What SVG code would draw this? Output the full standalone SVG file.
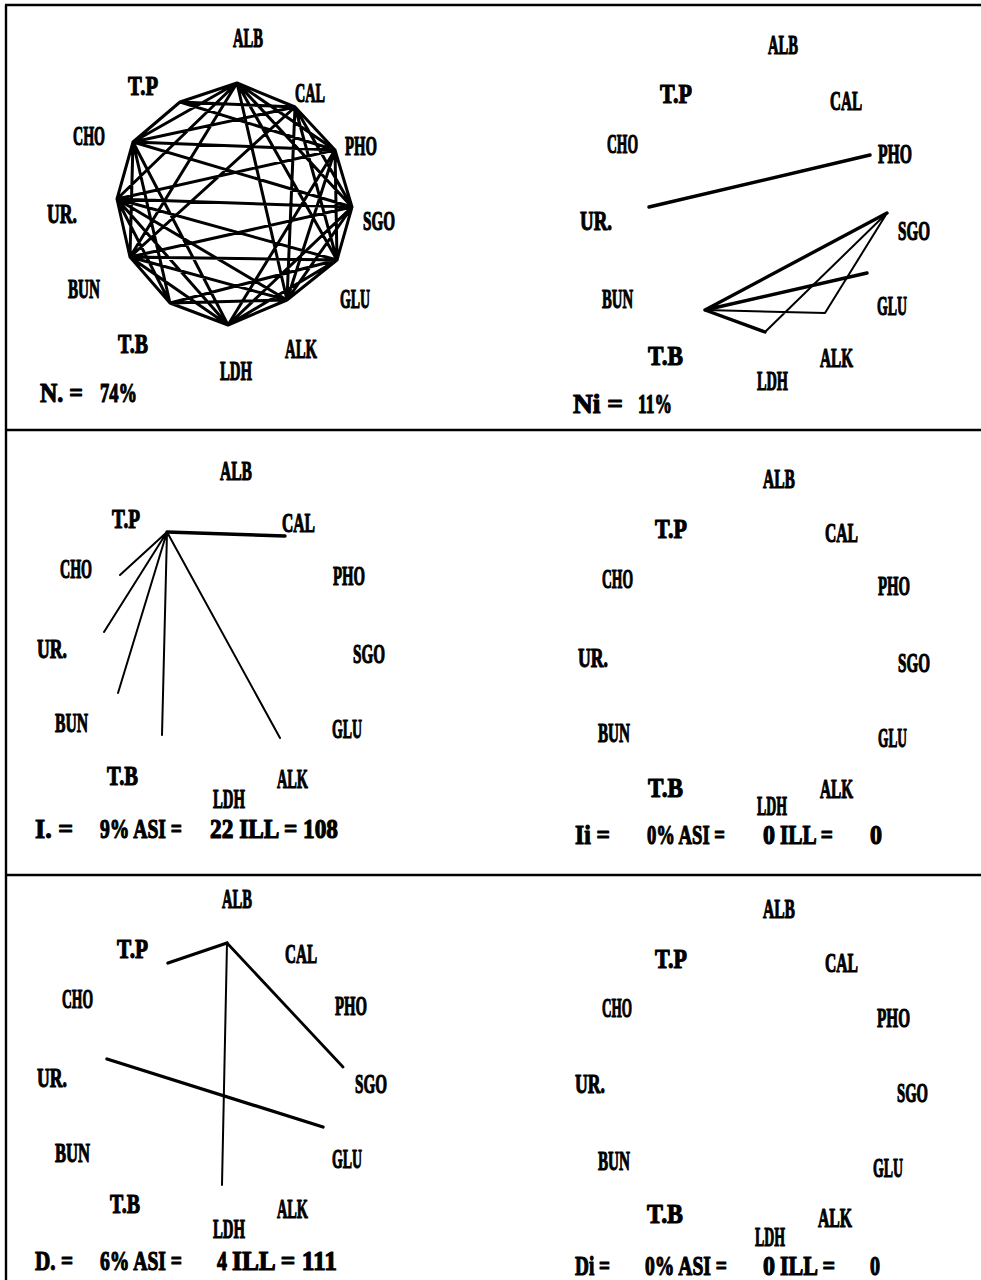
<svg xmlns="http://www.w3.org/2000/svg" width="981" height="1280" viewBox="0 0 981 1280">
<style>
.l{font-family:"Liberation Serif",serif;font-weight:bold;font-size:28px;fill:#000;stroke:#000;stroke-width:1.2;stroke-linejoin:round}
.e{stroke:#000;stroke-width:2;fill:none;stroke-linecap:round}
.k{stroke-width:3}
.j{stroke-width:3.4}
.b{stroke:#000;stroke-width:2.4;fill:none}
</style>
<rect width="981" height="1280" fill="#fff"/>
<g id="frame">
<path class="b" d="M5 5H981M6 5V1280M6 430H981M6 875H981"/>
</g>
<g id="connectors">
<path class="e k" d="M237 83L295 107M237 83L335 150M237 83L352 207M237 83L337 260M237 83L287 300M237 83L130 257M237 83L117 199M237 83L133 142M237 83L180 102M295 107L335 150M295 107L352 207M295 107L337 260M295 107L287 300M295 107L130 257M295 107L133 142M295 107L180 102M335 150L352 207M335 150L337 260M335 150L287 300M335 150L228 325M335 150L117 199M335 150L133 142M335 150L180 102M352 207L337 260M352 207L287 300M352 207L228 325M352 207L130 257M352 207L117 199M352 207L133 142M337 260L287 300M337 260L228 325M337 260L170 303M337 260L130 257M337 260L117 199M287 300L228 325M287 300L170 303M287 300L130 257M287 300L117 199M228 325L170 303M228 325L130 257M228 325L117 199M228 325L133 142M170 303L130 257M170 303L117 199M170 303L133 142M130 257L117 199M130 257L133 142M117 199L133 142M133 142L180 102"/>
<path class="e j" d="M649 207L870 155M705 310L887 213M705 310L867 273M705 310L765 332"/>
<path class="e" d="M705 310L825 313M765 332L887 213M825 313L887 213"/>
<path class="e j" d="M167 532L285 536"/>
<path class="e" d="M167 532L120 575M167 532L104 632M167 532L118 693M167 532L162 735M167 532L280 738"/>
<path class="e j" d="M168 963L227 943M107 1059L323 1127"/>
<path class="e" style="stroke-width:2.8" d="M227 943L343 1067"/>
<path class="e" d="M227 943L222 1185"/>
</g>
<g id="tl-ALB"><text class="l" x="233" y="47" textLength="30" lengthAdjust="spacingAndGlyphs">ALB</text></g>
<g id="tl-TP"><text class="l" x="128" y="95" textLength="30" lengthAdjust="spacingAndGlyphs">T.P</text></g>
<g id="tl-CAL"><text class="l" x="295" y="102" textLength="30" lengthAdjust="spacingAndGlyphs">CAL</text></g>
<g id="tl-CHO"><text class="l" x="73" y="145" textLength="32" lengthAdjust="spacingAndGlyphs">CHO</text></g>
<g id="tl-PHO"><text class="l" x="345" y="155" textLength="32" lengthAdjust="spacingAndGlyphs">PHO</text></g>
<g id="tl-UR"><text class="l" x="47" y="223" textLength="30" lengthAdjust="spacingAndGlyphs">UR.</text></g>
<g id="tl-SGO"><text class="l" x="363" y="230" textLength="32" lengthAdjust="spacingAndGlyphs">SGO</text></g>
<g id="tl-BUN"><text class="l" x="68" y="298" textLength="32" lengthAdjust="spacingAndGlyphs">BUN</text></g>
<g id="tl-GLU"><text class="l" x="340" y="308" textLength="30" lengthAdjust="spacingAndGlyphs">GLU</text></g>
<g id="tl-TB"><text class="l" x="118" y="353" textLength="30" lengthAdjust="spacingAndGlyphs">T.B</text></g>
<g id="tl-ALK"><text class="l" x="285" y="358" textLength="32" lengthAdjust="spacingAndGlyphs">ALK</text></g>
<g id="tl-LDH"><text class="l" x="220" y="380" textLength="32" lengthAdjust="spacingAndGlyphs">LDH</text></g>
<g id="tl-stat"><text class="l" x="40" y="402" textLength="43" lengthAdjust="spacingAndGlyphs">N. =</text><text class="l" x="100" y="402" textLength="37" lengthAdjust="spacingAndGlyphs">74%</text></g>
<g id="tr-ALB"><text class="l" x="768" y="54" textLength="30" lengthAdjust="spacingAndGlyphs">ALB</text></g>
<g id="tr-TP"><text class="l" x="660" y="103" textLength="32" lengthAdjust="spacingAndGlyphs">T.P</text></g>
<g id="tr-CAL"><text class="l" x="830" y="110" textLength="32" lengthAdjust="spacingAndGlyphs">CAL</text></g>
<g id="tr-CHO"><text class="l" x="607" y="153" textLength="31" lengthAdjust="spacingAndGlyphs">CHO</text></g>
<g id="tr-PHO"><text class="l" x="878" y="163" textLength="34" lengthAdjust="spacingAndGlyphs">PHO</text></g>
<g id="tr-UR"><text class="l" x="580" y="230" textLength="32" lengthAdjust="spacingAndGlyphs">UR.</text></g>
<g id="tr-SGO"><text class="l" x="898" y="240" textLength="32" lengthAdjust="spacingAndGlyphs">SGO</text></g>
<g id="tr-BUN"><text class="l" x="602" y="308" textLength="31" lengthAdjust="spacingAndGlyphs">BUN</text></g>
<g id="tr-GLU"><text class="l" x="877" y="315" textLength="30" lengthAdjust="spacingAndGlyphs">GLU</text></g>
<g id="tr-TB"><text class="l" x="648" y="365" textLength="35" lengthAdjust="spacingAndGlyphs">T.B</text></g>
<g id="tr-ALK"><text class="l" x="820" y="367" textLength="33" lengthAdjust="spacingAndGlyphs">ALK</text></g>
<g id="tr-LDH"><text class="l" x="757" y="390" textLength="31" lengthAdjust="spacingAndGlyphs">LDH</text></g>
<g id="tr-stat"><text class="l" x="573" y="413" textLength="50" lengthAdjust="spacingAndGlyphs">Ni =</text><text class="l" x="638" y="413" textLength="34" lengthAdjust="spacingAndGlyphs">11%</text></g>
<g id="ml-ALB"><text class="l" x="220" y="480" textLength="32" lengthAdjust="spacingAndGlyphs">ALB</text></g>
<g id="ml-TP"><text class="l" x="112" y="528" textLength="28" lengthAdjust="spacingAndGlyphs">T.P</text></g>
<g id="ml-CAL"><text class="l" x="282" y="532" textLength="33" lengthAdjust="spacingAndGlyphs">CAL</text></g>
<g id="ml-CHO"><text class="l" x="60" y="578" textLength="32" lengthAdjust="spacingAndGlyphs">CHO</text></g>
<g id="ml-PHO"><text class="l" x="333" y="585" textLength="32" lengthAdjust="spacingAndGlyphs">PHO</text></g>
<g id="ml-UR"><text class="l" x="37" y="658" textLength="30" lengthAdjust="spacingAndGlyphs">UR.</text></g>
<g id="ml-SGO"><text class="l" x="353" y="663" textLength="32" lengthAdjust="spacingAndGlyphs">SGO</text></g>
<g id="ml-BUN"><text class="l" x="55" y="732" textLength="33" lengthAdjust="spacingAndGlyphs">BUN</text></g>
<g id="ml-GLU"><text class="l" x="332" y="738" textLength="30" lengthAdjust="spacingAndGlyphs">GLU</text></g>
<g id="ml-TB"><text class="l" x="107" y="785" textLength="31" lengthAdjust="spacingAndGlyphs">T.B</text></g>
<g id="ml-ALK"><text class="l" x="277" y="788" textLength="31" lengthAdjust="spacingAndGlyphs">ALK</text></g>
<g id="ml-LDH"><text class="l" x="213" y="808" textLength="32" lengthAdjust="spacingAndGlyphs">LDH</text></g>
<g id="ml-stat"><text class="l" x="35" y="838" textLength="38" lengthAdjust="spacingAndGlyphs">I. =</text><text class="l" x="100" y="838" textLength="82" lengthAdjust="spacingAndGlyphs">9% ASI =</text><text class="l" x="210" y="838" textLength="128" lengthAdjust="spacingAndGlyphs">22 ILL = 108</text></g>
<g id="mr-ALB"><text class="l" x="763" y="488" textLength="32" lengthAdjust="spacingAndGlyphs">ALB</text></g>
<g id="mr-TP"><text class="l" x="655" y="538" textLength="32" lengthAdjust="spacingAndGlyphs">T.P</text></g>
<g id="mr-CAL"><text class="l" x="825" y="542" textLength="33" lengthAdjust="spacingAndGlyphs">CAL</text></g>
<g id="mr-CHO"><text class="l" x="602" y="588" textLength="31" lengthAdjust="spacingAndGlyphs">CHO</text></g>
<g id="mr-PHO"><text class="l" x="878" y="595" textLength="32" lengthAdjust="spacingAndGlyphs">PHO</text></g>
<g id="mr-UR"><text class="l" x="578" y="667" textLength="30" lengthAdjust="spacingAndGlyphs">UR.</text></g>
<g id="mr-SGO"><text class="l" x="898" y="672" textLength="32" lengthAdjust="spacingAndGlyphs">SGO</text></g>
<g id="mr-BUN"><text class="l" x="598" y="742" textLength="32" lengthAdjust="spacingAndGlyphs">BUN</text></g>
<g id="mr-GLU"><text class="l" x="878" y="747" textLength="29" lengthAdjust="spacingAndGlyphs">GLU</text></g>
<g id="mr-TB"><text class="l" x="648" y="797" textLength="35" lengthAdjust="spacingAndGlyphs">T.B</text></g>
<g id="mr-ALK"><text class="l" x="820" y="798" textLength="33" lengthAdjust="spacingAndGlyphs">ALK</text></g>
<g id="mr-LDH"><text class="l" x="757" y="815" textLength="30" lengthAdjust="spacingAndGlyphs">LDH</text></g>
<g id="mr-stat"><text class="l" x="575" y="844" textLength="35" lengthAdjust="spacingAndGlyphs">Ii =</text><text class="l" x="647" y="844" textLength="78" lengthAdjust="spacingAndGlyphs">0% ASI =</text><text class="l" x="763" y="844" textLength="12" lengthAdjust="spacingAndGlyphs">0</text><text class="l" x="780" y="844" textLength="53" lengthAdjust="spacingAndGlyphs">ILL =</text><text class="l" x="870" y="844" textLength="12" lengthAdjust="spacingAndGlyphs">0</text></g>
<g id="bl-ALB"><text class="l" x="222" y="908" textLength="30" lengthAdjust="spacingAndGlyphs">ALB</text></g>
<g id="bl-TP"><text class="l" x="117" y="958" textLength="31" lengthAdjust="spacingAndGlyphs">T.P</text></g>
<g id="bl-CAL"><text class="l" x="285" y="963" textLength="32" lengthAdjust="spacingAndGlyphs">CAL</text></g>
<g id="bl-CHO"><text class="l" x="62" y="1008" textLength="31" lengthAdjust="spacingAndGlyphs">CHO</text></g>
<g id="bl-PHO"><text class="l" x="335" y="1015" textLength="32" lengthAdjust="spacingAndGlyphs">PHO</text></g>
<g id="bl-UR"><text class="l" x="37" y="1087" textLength="30" lengthAdjust="spacingAndGlyphs">UR.</text></g>
<g id="bl-SGO"><text class="l" x="355" y="1093" textLength="32" lengthAdjust="spacingAndGlyphs">SGO</text></g>
<g id="bl-BUN"><text class="l" x="55" y="1162" textLength="35" lengthAdjust="spacingAndGlyphs">BUN</text></g>
<g id="bl-GLU"><text class="l" x="332" y="1168" textLength="30" lengthAdjust="spacingAndGlyphs">GLU</text></g>
<g id="bl-TB"><text class="l" x="110" y="1213" textLength="30" lengthAdjust="spacingAndGlyphs">T.B</text></g>
<g id="bl-ALK"><text class="l" x="277" y="1218" textLength="31" lengthAdjust="spacingAndGlyphs">ALK</text></g>
<g id="bl-LDH"><text class="l" x="213" y="1238" textLength="32" lengthAdjust="spacingAndGlyphs">LDH</text></g>
<g id="bl-stat"><text class="l" x="35" y="1270" textLength="38" lengthAdjust="spacingAndGlyphs">D. =</text><text class="l" x="100" y="1270" textLength="82" lengthAdjust="spacingAndGlyphs">6% ASI =</text><text class="l" x="217" y="1270" textLength="10" lengthAdjust="spacingAndGlyphs">4</text><text class="l" x="232" y="1270" textLength="105" lengthAdjust="spacingAndGlyphs">ILL = 111</text></g>
<g id="br-ALB"><text class="l" x="763" y="918" textLength="32" lengthAdjust="spacingAndGlyphs">ALB</text></g>
<g id="br-TP"><text class="l" x="655" y="968" textLength="32" lengthAdjust="spacingAndGlyphs">T.P</text></g>
<g id="br-CAL"><text class="l" x="825" y="972" textLength="33" lengthAdjust="spacingAndGlyphs">CAL</text></g>
<g id="br-CHO"><text class="l" x="602" y="1017" textLength="30" lengthAdjust="spacingAndGlyphs">CHO</text></g>
<g id="br-PHO"><text class="l" x="877" y="1027" textLength="33" lengthAdjust="spacingAndGlyphs">PHO</text></g>
<g id="br-UR"><text class="l" x="575" y="1093" textLength="30" lengthAdjust="spacingAndGlyphs">UR.</text></g>
<g id="br-SGO"><text class="l" x="897" y="1102" textLength="31" lengthAdjust="spacingAndGlyphs">SGO</text></g>
<g id="br-BUN"><text class="l" x="598" y="1170" textLength="32" lengthAdjust="spacingAndGlyphs">BUN</text></g>
<g id="br-GLU"><text class="l" x="873" y="1177" textLength="30" lengthAdjust="spacingAndGlyphs">GLU</text></g>
<g id="br-TB"><text class="l" x="647" y="1223" textLength="36" lengthAdjust="spacingAndGlyphs">T.B</text></g>
<g id="br-ALK"><text class="l" x="818" y="1227" textLength="34" lengthAdjust="spacingAndGlyphs">ALK</text></g>
<g id="br-LDH"><text class="l" x="755" y="1246" textLength="30" lengthAdjust="spacingAndGlyphs">LDH</text></g>
<g id="br-stat"><text class="l" x="575" y="1275" textLength="35" lengthAdjust="spacingAndGlyphs">Di =</text><text class="l" x="645" y="1275" textLength="82" lengthAdjust="spacingAndGlyphs">0% ASI =</text><text class="l" x="763" y="1275" textLength="12" lengthAdjust="spacingAndGlyphs">0</text><text class="l" x="780" y="1275" textLength="55" lengthAdjust="spacingAndGlyphs">ILL =</text><text class="l" x="870" y="1275" textLength="10" lengthAdjust="spacingAndGlyphs">0</text></g>
</svg>
